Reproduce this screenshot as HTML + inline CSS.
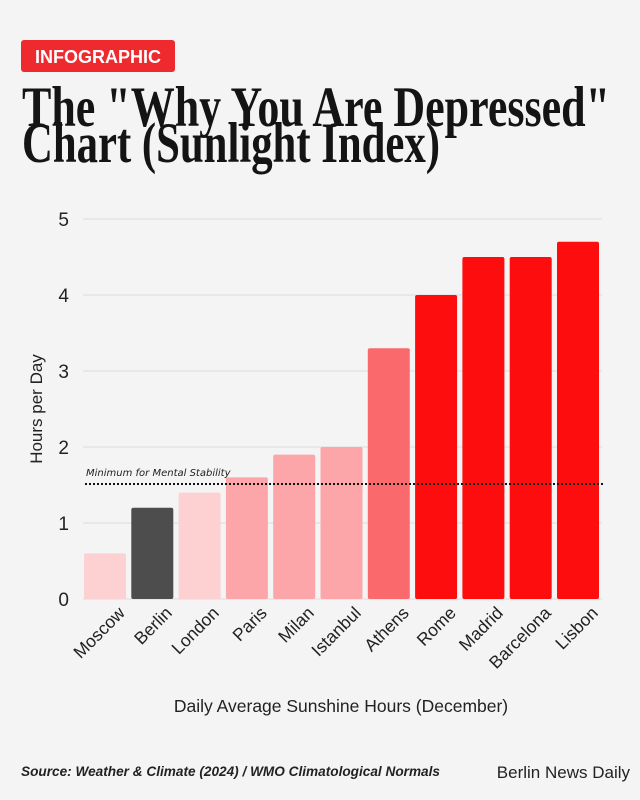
<!DOCTYPE html>
<html><head><meta charset="utf-8"><style>
html,body{margin:0;padding:0;background:#f4f4f4;}
svg{display:block}
</style></head><body>
<svg width="640" height="800" viewBox="0 0 640 800" xmlns="http://www.w3.org/2000/svg">
<rect width="640" height="800" fill="#f4f4f4"/>
<rect x="21" y="40" width="154" height="32" rx="3" fill="#ee2a2f"/>
<text x="98" y="63" text-anchor="middle" font-family="Liberation Sans, sans-serif" font-weight="bold" font-size="18" fill="#fff">INFOGRAPHIC</text>
<g font-family="Liberation Serif, serif" font-weight="bold" fill="#141414" font-size="57">
<text x="22" y="126" textLength="588" lengthAdjust="spacingAndGlyphs">The "Why You Are Depressed"</text>
<text x="22" y="162" textLength="418" lengthAdjust="spacingAndGlyphs">Chart (Sunlight Index)</text>
</g>
<g stroke="#dcdcdc" stroke-width="1">
<line x1="83" x2="602" y1="219" y2="219"/>
<line x1="83" x2="602" y1="295" y2="295"/>
<line x1="83" x2="602" y1="371" y2="371"/>
<line x1="83" x2="602" y1="447" y2="447"/>
<line x1="83" x2="602" y1="523" y2="523"/>
<line x1="83" x2="602" y1="599" y2="599"/>
</g>
<g font-family="Liberation Sans, sans-serif" font-size="19" fill="#222" text-anchor="end">
<text x="69" y="226">5</text><text x="69" y="302">4</text><text x="69" y="378">3</text>
<text x="69" y="454">2</text><text x="69" y="530">1</text><text x="69" y="606">0</text>
</g>
<text transform="translate(42,409) rotate(-90)" text-anchor="middle" font-family="Liberation Sans, sans-serif" font-size="17" fill="#222">Hours per Day</text>
<g>
<rect x="84" y="553.4" width="42" height="45.6" rx="2" fill="#fdd0d1"/>
<rect x="131.3" y="507.8" width="42" height="91.2" rx="2" fill="#4d4d4d"/>
<rect x="178.6" y="492.6" width="42" height="106.4" rx="2" fill="#fdd0d1"/>
<rect x="225.9" y="477.4" width="42" height="121.6" rx="2" fill="#fca6a9"/>
<rect x="273.2" y="454.6" width="42" height="144.4" rx="2" fill="#fca6a9"/>
<rect x="320.5" y="447" width="42" height="152" rx="2" fill="#fca6a9"/>
<rect x="367.8" y="348.2" width="42" height="250.8" rx="2" fill="#fa6a6d"/>
<rect x="415.1" y="295" width="42" height="304" rx="2" fill="#fe0d0f"/>
<rect x="462.4" y="257" width="42" height="342" rx="2" fill="#fe0d0f"/>
<rect x="509.7" y="257" width="42" height="342" rx="2" fill="#fe0d0f"/>
<rect x="557" y="241.8" width="42" height="357.2" rx="2" fill="#fe0d0f"/>
</g>
<line x1="85" x2="604" y1="484" y2="484" stroke="#111" stroke-width="2" stroke-dasharray="2,2"/>
<text x="86" y="476" font-family="DejaVu Sans, sans-serif" font-style="italic" font-size="10" fill="#222">Minimum for Mental Stability</text>
<g font-family="Liberation Sans, sans-serif" font-size="17.5" fill="#222" text-anchor="end">
<text transform="translate(126,614) rotate(-45)">Moscow</text>
<text transform="translate(173,614) rotate(-45)">Berlin</text>
<text transform="translate(220,614) rotate(-45)">London</text>
<text transform="translate(268,614) rotate(-45)">Paris</text>
<text transform="translate(315,614) rotate(-45)">Milan</text>
<text transform="translate(362,614) rotate(-45)">Istanbul</text>
<text transform="translate(410,614) rotate(-45)">Athens</text>
<text transform="translate(457,614) rotate(-45)">Rome</text>
<text transform="translate(504,614) rotate(-45)">Madrid</text>
<text transform="translate(552,614) rotate(-45)">Barcelona</text>
<text transform="translate(599,614) rotate(-45)">Lisbon</text>
</g>
<text x="341" y="712" text-anchor="middle" font-family="Liberation Sans, sans-serif" font-size="17.5" fill="#222">Daily Average Sunshine Hours (December)</text>
<text x="21" y="776" font-family="Liberation Sans, sans-serif" font-weight="bold" font-style="italic" font-size="13.5" fill="#222" textLength="419" lengthAdjust="spacingAndGlyphs">Source: Weather &amp; Climate (2024) / WMO Climatological Normals</text>
<text x="630" y="778" text-anchor="end" font-family="Liberation Sans, sans-serif" font-size="17" fill="#222">Berlin News Daily</text>
</svg>
</body></html>
